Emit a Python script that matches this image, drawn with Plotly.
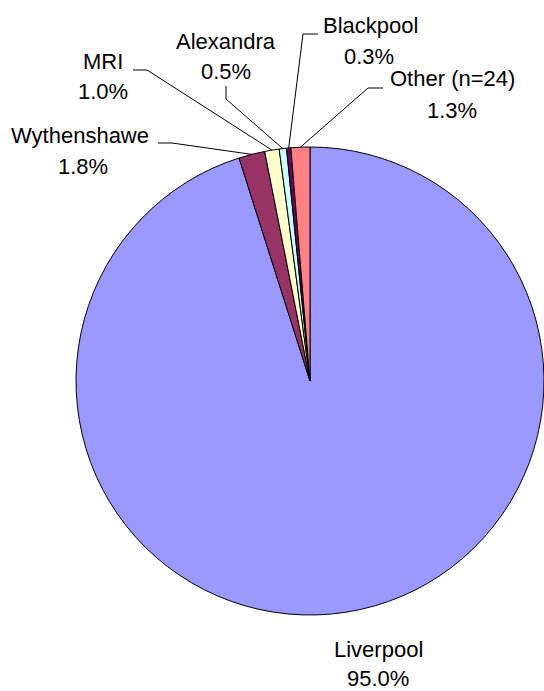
import math
import plotly.graph_objects as go

# ---- data ----
labels = ["Liverpool", "Wythenshawe", "MRI", "Alexandra", "Blackpool", "Other (n=24)"]
values = [95.0, 1.8, 1.0, 0.5, 0.3, 1.3]
colors = ["#9999FF", "#993366", "#FFFFCC", "#CCFFFF", "#660066", "#FF8080"]

# ---- layout constants (pixels) ----
W, H = 544, 691
CX, CY, R = 310, 381, 234           # pie centre / radius in pixels
FONT = dict(family="Liberation Sans, Arial, sans-serif", size=22, color="#000000")

# label text positions: (name centre, percent centre)
label_pos = {
    "Liverpool": ((378, 649), (378, 678)),
    "Wythenshawe": ((80, 135), (83, 166)),
    "MRI": ((103, 61), (103, 91)),
    "Alexandra": ((226, 41), (226, 72)),
    "Blackpool": ((370, 25), (369, 56)),
    "Other (n=24)": ((452, 79), (452, 110)),
}
# leader stubs: (start, elbow)  -> then to slice edge
leader_stub = {
    "Wythenshawe": ((158, 143), (172, 143)),
    "MRI": ((133, 70), (147, 70)),
    "Alexandra": ((226, 86), (226, 99)),
    "Blackpool": ((318, 34), (303, 34)),
    "Other (n=24)": ((383, 88), (368, 88)),
}


def px(x):
    return x / W


def py(y):
    return 1 - y / H


fig = go.Figure(
    go.Pie(
        labels=labels,
        values=values,
        sort=False,
        direction="clockwise",
        rotation=0,
        textinfo="none",
        hoverinfo="label+percent",
        marker=dict(colors=colors, line=dict(color="#000000", width=1)),
        domain=dict(x=[px(CX - R), px(CX + R)], y=[py(CY + R), py(CY - R)]),
        showlegend=False,
    )
)

# slice mid-angles from data (clockwise from 12 o'clock)
total = sum(values)
cum = 0.0
mid_pt = {}
for lab, v in zip(labels, values):
    a = (cum + v / 2) / total * 2 * math.pi
    mid_pt[lab] = (CX + R * math.sin(a), CY - R * math.cos(a))
    cum += v

annotations = []
for lab, v in zip(labels, values):
    (nx, ny), (qx, qy) = label_pos[lab]
    annotations.append(dict(x=px(nx), y=py(ny), xref="paper", yref="paper", text=lab,
                            showarrow=False, xanchor="center", yanchor="middle", font=FONT))
    annotations.append(dict(x=px(qx), y=py(qy), xref="paper", yref="paper", text=f"{v:.1f}%",
                            showarrow=False, xanchor="center", yanchor="middle", font=FONT))

shapes = []
for lab, ((sx, sy), (ex, ey)) in leader_stub.items():
    tx, ty = mid_pt[lab]
    path = f"M {px(sx)},{py(sy)} L {px(ex)},{py(ey)} L {px(tx)},{py(ty)}"
    shapes.append(dict(type="path", path=path, xref="paper", yref="paper",
                       line=dict(color="#000000", width=1)))

fig.update_layout(
    width=W, height=H,
    margin=dict(l=0, r=0, t=0, b=0),
    paper_bgcolor="#FFFFFF", plot_bgcolor="#FFFFFF",
    annotations=annotations,
    shapes=shapes,
)

fig.write_html(
    "out.html",
    config={"displayModeBar": False},
    post_script="document.body.style.margin='0';document.body.style.overflow='hidden';",
)
